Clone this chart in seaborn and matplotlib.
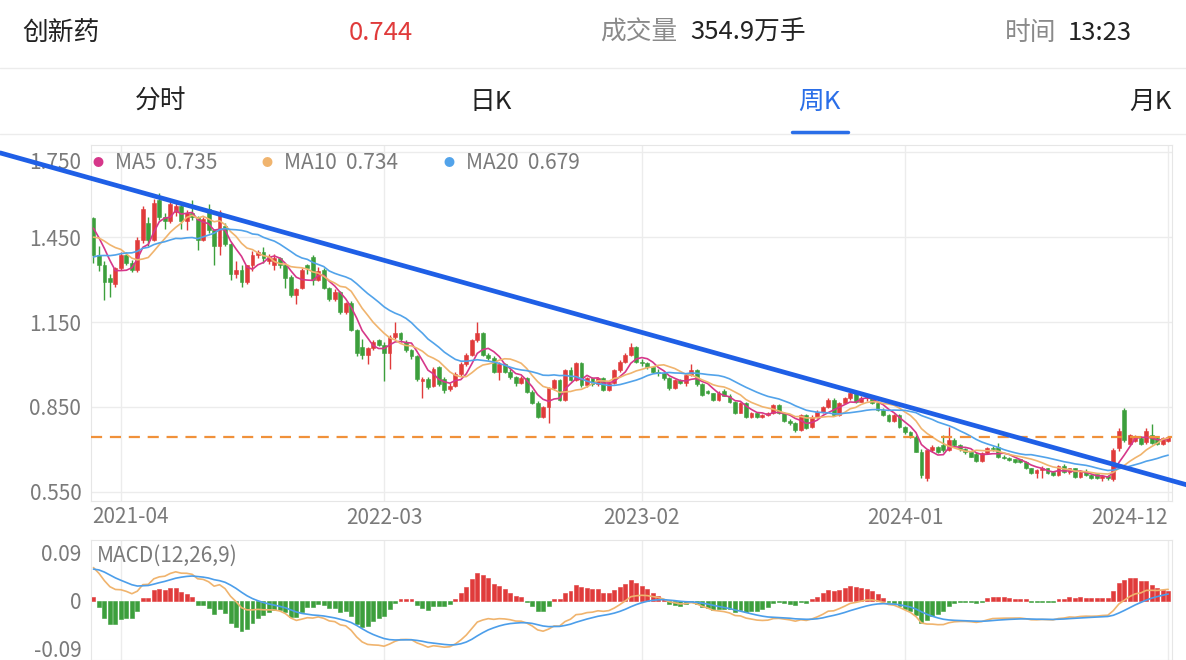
import numpy as np
import pandas as pd
import seaborn as sns
import matplotlib.pyplot as plt

# weekly candles of the ETF, 2021-03 .. 2024-12
opens = [1.516, 1.386, 1.351, 1.305, 1.285, 1.340, 1.387, 1.357, 1.334, 1.440,
         1.500, 1.440, 1.580, 1.520, 1.505, 1.540, 1.560, 1.505, 1.535, 1.520,
         1.440, 1.550, 1.475, 1.420, 1.490, 1.425, 1.320, 1.335, 1.290, 1.350,
         1.387, 1.398, 1.365, 1.350, 1.375, 1.350, 1.310, 1.245, 1.270, 1.350,
         1.380, 1.300, 1.335, 1.270, 1.230, 1.256, 1.187, 1.216, 1.122, 1.060,
         1.035, 1.057, 1.085, 1.070, 1.040, 1.098, 1.110, 1.080, 1.050, 1.030,
         0.940, 0.950, 0.925, 0.990, 0.950, 0.915, 0.925, 0.968, 1.000, 1.033,
         1.086, 1.110, 1.034, 1.022, 0.975, 1.000, 0.975, 0.957, 0.934, 0.951,
         0.904, 0.863, 0.816, 0.851, 0.916, 0.945, 0.875, 0.980, 0.945, 1.004,
         0.928, 0.951, 0.930, 0.951, 0.910, 0.934, 0.980, 1.010, 1.035, 1.063,
         1.010, 1.004, 0.990, 0.975, 0.970, 0.951, 0.916, 0.945, 0.934, 0.963,
         0.980, 0.930, 0.905, 0.898, 0.875, 0.905, 0.890, 0.869, 0.830, 0.863,
         0.816, 0.830, 0.816, 0.822, 0.830, 0.857, 0.828, 0.800, 0.792, 0.770,
         0.822, 0.780, 0.816, 0.834, 0.851, 0.875, 0.822, 0.863, 0.880, 0.898,
         0.869, 0.880, 0.885, 0.865, 0.840, 0.822, 0.800, 0.822, 0.780, 0.760,
         0.745, 0.692, 0.600, 0.698, 0.710, 0.715, 0.698, 0.733, 0.716, 0.700,
         0.690, 0.685, 0.660, 0.686, 0.704, 0.708, 0.675, 0.670, 0.665, 0.665,
         0.657, 0.633, 0.616, 0.628, 0.633, 0.620, 0.610, 0.640, 0.622, 0.633,
         0.604, 0.622, 0.610, 0.612, 0.600, 0.606, 0.595, 0.705, 0.840, 0.720,
         0.730, 0.740, 0.725, 0.750, 0.740, 0.720, 0.730]
highs = [1.520, 1.420, 1.365, 1.318, 1.345, 1.398, 1.398, 1.370, 1.450, 1.560,
         1.520, 1.585, 1.605, 1.535, 1.575, 1.570, 1.565, 1.545, 1.580, 1.525,
         1.520, 1.565, 1.480, 1.545, 1.500, 1.430, 1.365, 1.350, 1.350, 1.400,
         1.405, 1.415, 1.390, 1.390, 1.380, 1.355, 1.315, 1.270, 1.340, 1.355,
         1.385, 1.345, 1.340, 1.275, 1.265, 1.260, 1.220, 1.225, 1.125, 1.090,
         1.062, 1.085, 1.090, 1.080, 1.105, 1.150, 1.115, 1.085, 1.055, 1.035,
         0.955, 0.955, 0.990, 0.995, 0.955, 0.935, 0.975, 1.010, 1.040, 1.090,
         1.150, 1.115, 1.040, 1.030, 1.010, 1.005, 0.985, 0.960, 0.960, 0.955,
         0.910, 0.870, 0.855, 0.920, 0.950, 0.950, 0.985, 0.990, 1.010, 1.010,
         0.955, 0.955, 0.955, 0.955, 0.940, 0.985, 1.015, 1.040, 1.075, 1.065,
         1.020, 1.010, 0.995, 0.985, 0.975, 0.955, 0.950, 0.950, 0.970, 1.000,
         0.985, 0.935, 0.910, 0.900, 0.905, 0.912, 0.895, 0.872, 0.868, 0.866,
         0.832, 0.833, 0.826, 0.834, 0.862, 0.860, 0.832, 0.806, 0.796, 0.825,
         0.826, 0.820, 0.838, 0.855, 0.880, 0.880, 0.868, 0.884, 0.902, 0.902,
         0.888, 0.892, 0.888, 0.868, 0.845, 0.825, 0.826, 0.825, 0.784, 0.765,
         0.750, 0.700, 0.700, 0.715, 0.712, 0.750, 0.780, 0.740, 0.720, 0.705,
         0.692, 0.690, 0.690, 0.708, 0.712, 0.722, 0.680, 0.674, 0.668, 0.668,
         0.660, 0.636, 0.632, 0.640, 0.636, 0.624, 0.645, 0.650, 0.636, 0.636,
         0.626, 0.630, 0.614, 0.612, 0.610, 0.610, 0.705, 0.775, 0.845, 0.755,
         0.752, 0.748, 0.775, 0.790, 0.745, 0.745, 0.748]
lows = [1.360, 1.330, 1.228, 1.240, 1.272, 1.335, 1.350, 1.325, 1.325, 1.430,
        1.420, 1.435, 1.510, 1.480, 1.500, 1.525, 1.480, 1.475, 1.510, 1.405,
        1.435, 1.465, 1.350, 1.385, 1.420, 1.300, 1.305, 1.275, 1.285, 1.330,
        1.375, 1.360, 1.355, 1.335, 1.340, 1.270, 1.240, 1.215, 1.265, 1.320,
        1.280, 1.295, 1.265, 1.225, 1.225, 1.180, 1.180, 1.120, 1.030, 1.020,
        1.000, 1.050, 1.065, 0.940, 0.985, 1.090, 1.080, 1.045, 1.020, 0.940,
        0.880, 0.915, 0.920, 0.925, 0.900, 0.905, 0.920, 0.960, 0.995, 1.030,
        1.080, 1.030, 1.015, 0.970, 0.945, 0.970, 0.950, 0.925, 0.930, 0.900,
        0.860, 0.810, 0.810, 0.792, 0.910, 0.870, 0.870, 0.940, 0.940, 0.920,
        0.920, 0.925, 0.925, 0.905, 0.905, 0.930, 0.975, 1.005, 1.030, 1.005,
        0.995, 0.985, 0.970, 0.960, 0.945, 0.910, 0.912, 0.930, 0.925, 0.960,
        0.925, 0.890, 0.895, 0.870, 0.870, 0.888, 0.865, 0.825, 0.828, 0.812,
        0.810, 0.812, 0.810, 0.818, 0.826, 0.824, 0.798, 0.788, 0.760, 0.766,
        0.772, 0.776, 0.812, 0.830, 0.848, 0.818, 0.818, 0.860, 0.876, 0.864,
        0.866, 0.872, 0.860, 0.836, 0.818, 0.796, 0.796, 0.776, 0.756, 0.740,
        0.690, 0.600, 0.590, 0.690, 0.688, 0.690, 0.695, 0.710, 0.695, 0.685,
        0.672, 0.655, 0.655, 0.684, 0.696, 0.670, 0.665, 0.660, 0.652, 0.652,
        0.630, 0.612, 0.598, 0.600, 0.612, 0.606, 0.606, 0.618, 0.615, 0.600,
        0.600, 0.606, 0.594, 0.596, 0.588, 0.592, 0.590, 0.695, 0.725, 0.715,
        0.725, 0.715, 0.720, 0.718, 0.715, 0.715, 0.725]
closes = [1.386, 1.351, 1.290, 1.290, 1.340, 1.387, 1.357, 1.334, 1.440, 1.550,
          1.440, 1.570, 1.520, 1.505, 1.565, 1.560, 1.505, 1.535, 1.520, 1.440,
          1.515, 1.475, 1.420, 1.540, 1.425, 1.320, 1.335, 1.290, 1.350, 1.387,
          1.398, 1.375, 1.380, 1.375, 1.350, 1.305, 1.245, 1.265, 1.335, 1.340,
          1.300, 1.330, 1.270, 1.230, 1.256, 1.187, 1.216, 1.122, 1.040, 1.035,
          1.057, 1.080, 1.070, 1.040, 1.098, 1.110, 1.090, 1.050, 1.030, 0.950,
          0.950, 0.920, 0.985, 0.930, 0.910, 0.925, 0.968, 1.000, 1.033, 1.086,
          1.110, 1.034, 1.022, 0.975, 1.000, 0.975, 0.957, 0.934, 0.951, 0.904,
          0.863, 0.816, 0.851, 0.916, 0.945, 0.875, 0.980, 0.945, 1.004, 0.928,
          0.951, 0.930, 0.951, 0.910, 0.934, 0.980, 1.010, 1.035, 1.063, 1.010,
          1.004, 0.990, 0.975, 0.970, 0.951, 0.916, 0.945, 0.934, 0.963, 0.980,
          0.930, 0.893, 0.898, 0.875, 0.898, 0.890, 0.869, 0.830, 0.863, 0.816,
          0.828, 0.816, 0.822, 0.830, 0.857, 0.828, 0.800, 0.792, 0.770, 0.822,
          0.775, 0.816, 0.834, 0.851, 0.875, 0.822, 0.863, 0.880, 0.898, 0.869,
          0.880, 0.885, 0.865, 0.840, 0.822, 0.800, 0.822, 0.780, 0.760, 0.745,
          0.692, 0.610, 0.698, 0.710, 0.692, 0.698, 0.733, 0.716, 0.700, 0.690,
          0.675, 0.660, 0.686, 0.704, 0.700, 0.675, 0.670, 0.663, 0.657, 0.657,
          0.633, 0.616, 0.628, 0.633, 0.616, 0.610, 0.640, 0.622, 0.633, 0.604,
          0.622, 0.610, 0.598, 0.600, 0.606, 0.598, 0.698, 0.765, 0.735, 0.750,
          0.745, 0.720, 0.765, 0.722, 0.720, 0.740, 0.744]
# rough closes before the window, only used to seed the MA / MACD values
warmup_closes = [1.18, 1.19, 1.20, 1.21, 1.20, 1.21, 1.22, 1.23, 1.24, 1.25,
                 1.24, 1.25, 1.26, 1.28, 1.30, 1.29, 1.30, 1.31, 1.32, 1.33,
                 1.34, 1.37, 1.38, 1.40, 1.42, 1.44, 1.45, 1.52, 1.48, 1.50, 1.52]

date_ticks = [5, 53, 100, 148, 196]
date_labels = ['2021-04', '2022-03', '2023-02', '2024-01', '2024-12']
price_ticks = [0.55, 0.85, 1.15, 1.45, 1.75]
macd_ticks = [-0.09, 0, 0.09]
ma_windows = [5, 10, 20]
ma_values = ['0.735', '0.734', '0.679']
last_price = 0.744
# hand drawn trend line (week index, price)
trend_x = [-17.0, 199.4]
trend_y = [1.747, 0.575]

RED = '#e03b3b'
GREEN = '#3c9f3c'
MA_COLORS = ['#d6378a', '#f0b46e', '#52a3ea']
GREY = '#7a7a7a'
FS = 15

sns.set_style('white')
plt.rcParams['font.family'] = ['Noto Sans CJK SC', 'DejaVu Sans']

o = np.array(opens)
h = np.array(highs)
l = np.array(lows)
c = np.array(closes)
x = np.arange(len(c))
n_warm = len(warmup_closes)

full = pd.Series(warmup_closes + closes)
mas = [full.rolling(w, min_periods=1).mean().values[n_warm:] for w in ma_windows]
ema12 = full.ewm(span=12, adjust=False).mean()
ema26 = full.ewm(span=26, adjust=False).mean()
dif = ema12 - ema26
dea = dif.ewm(span=9, adjust=False).mean()
hist = (2 * (dif - dea)).values[n_warm:]
dif = dif.values[n_warm:]
dea = dea.values[n_warm:]

fig = plt.figure(figsize=(11.86, 6.6), dpi=100)
W, H = 1186.0, 660.0


def fx(px):
    return px / W


def fy(py):
    return 1 - py / H


# header rows
fig.text(fx(22), fy(33), '创新药', fontsize=18.5, color='#222222', va='center')
fig.text(fx(349), fy(33), '0.744', fontsize=18.5, color='#e03b3b', va='center')
fig.text(fx(600), fy(33), '成交量', fontsize=18.5, color='#8a8a8a', va='center')
fig.text(fx(690), fy(33), '354.9万手', fontsize=18.5, color='#222222', va='center')
fig.text(fx(1005), fy(33), '时间', fontsize=18.5, color='#8a8a8a', va='center')
fig.text(fx(1068), fy(33), '13:23', fontsize=18.5, color='#222222', va='center')
tabs = ['分时', '日K', '周K', '月K']
tab_x = [161, 491, 819, 1150]
for t, tx in zip(tabs, tab_x):
    col = '#2a6ee8' if t == '周K' else '#222222'
    fig.text(fx(tx), fy(102), t, fontsize=18.5, color=col, va='center', ha='center')
fig.add_artist(plt.Line2D([0, 1], [fy(68), fy(68)], color='#ececec', lw=1))
fig.add_artist(plt.Line2D([0, 1], [fy(134), fy(134)], color='#ececec', lw=1))
fig.add_artist(plt.Line2D([fx(792), fx(848)], [fy(131.5), fy(131.5)], color='#2a6ee8', lw=2.5))

# main price panel
ax = fig.add_axes([fx(91), fy(501), fx(1172) - fx(91), fy(145) - fy(501)])
ax.set_xlim(-0.45, 196.7)
ax.set_ylim(0.518, 1.775)

cols = np.where(c >= o, RED, GREEN)
ax.vlines(x, l, h, colors=cols, linewidth=1, zorder=2)
body = np.maximum(np.abs(c - o), 0.004)
ax.bar(x, body, bottom=np.minimum(o, c), width=0.7, color=cols,
       edgecolor=cols, linewidth=0.4, zorder=3)

for ma, col in zip(mas, MA_COLORS):
    sns.lineplot(x=x, y=ma, ax=ax, color=col, linewidth=1.2, zorder=4)

ax.axhline(last_price, color='#f0913a', lw=1.6, dashes=(5, 3.5), zorder=5)
sns.lineplot(x=trend_x, y=trend_y, ax=ax, color='#1f5fe6', linewidth=3.4,
             zorder=6, clip_on=False)

ax.set_yticks(price_ticks)
ax.set_yticklabels(['%.3f' % v for v in price_ticks])
ax.set_xticks(date_ticks)
ax.set_xticklabels([''] + date_labels[1:])
ax.grid(True, color='#ececec', lw=1)
ax.tick_params(axis='both', length=0, labelsize=FS, labelcolor=GREY, pad=4)
ax.tick_params(axis='y', pad=7)
for sp in ax.spines.values():
    sp.set_color('#e6e6e6')
ylabs = ax.get_yticklabels()
ylabs[-1].set_va('top')
xlabs = ax.get_xticklabels()
xlabs[-1].set_ha('right')
# first date label sits flush with the left edge
ax.annotate(date_labels[0], xy=(0, 0), xycoords='axes fraction',
            xytext=(1, -16), textcoords='offset pixels', fontsize=FS,
            color=GREY, ha='left', va='center')

# legend line
leg_x = [98, 267, 449]
for i, (w, val) in enumerate(zip(ma_windows, ma_values)):
    fig.text(fx(leg_x[i]), fy(163), '\u25CF', fontsize=8, color=MA_COLORS[i], va='center', ha='center')
    fig.text(fx(leg_x[i] + 17), fy(163), 'MA%d  %s' % (w, val), fontsize=FS, color=GREY, va='center')

# MACD panel
ax2 = fig.add_axes([fx(91), 0, fx(1172) - fx(91), fy(540)])
ax2.set_xlim(-0.45, 196.7)
ax2.set_ylim(-0.1127, 0.1146)
bar_cols = np.where(hist >= 0, RED, GREEN)
bar_h = np.where(np.abs(hist) < 0.002, np.sign(hist + 1e-9) * 0.002, hist)
ax2.bar(x, bar_h, width=0.72, color=bar_cols, edgecolor=bar_cols,
        linewidth=0.4, zorder=2)
sns.lineplot(x=x, y=dif, ax=ax2, color='#f0b46e', linewidth=1.2, zorder=3)
sns.lineplot(x=x, y=dea, ax=ax2, color='#4c9eea', linewidth=1.2, zorder=3)
ax2.set_yticks(macd_ticks)
ax2.set_yticklabels(['-0.09', '0', '0.09'])
ax2.set_xticks(date_ticks)
ax2.set_xticklabels([])
ax2.grid(True, axis='x', color='#ececec', lw=1)
ax2.tick_params(axis='both', length=0, labelsize=FS, labelcolor=GREY, pad=7)
for sp in ax2.spines.values():
    sp.set_color('#e6e6e6')
ax2.text(0.005, 0.87, 'MACD(12,26,9)', transform=ax2.transAxes, fontsize=FS, color=GREY, va='center')

fig.savefig('out.png', dpi=100)
